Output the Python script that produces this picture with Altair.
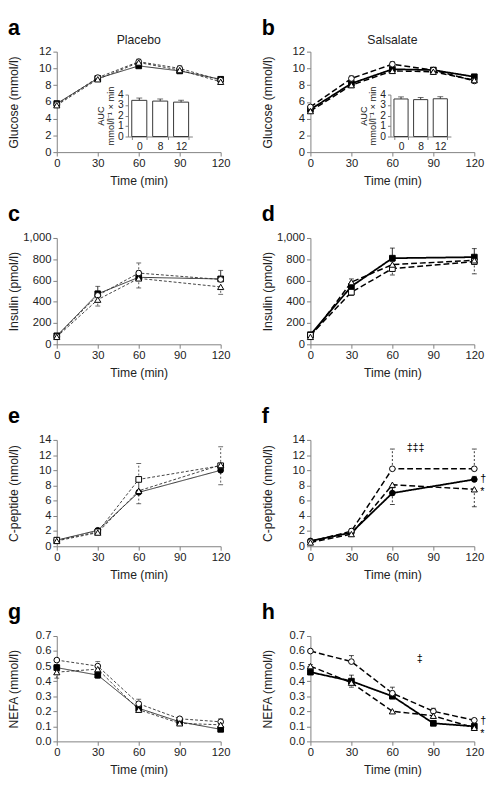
import altair as alt
import pandas as pd

FONT = "Liberation Sans"
AX = "#808080"
TX = "#222222"

TIME5 = [0, 30, 60, 90, 120]
TIME4 = [0, 30, 60, 120]
WEEKS = ["0", "8", "12"]

GLU_TICKS = [0, 2, 4, 6, 8, 10, 12]
INS_TICKS = [0, 200, 400, 600, 800, 1000]
CPEP_TICKS = [0, 2, 4, 6, 8, 10, 12, 14]
NEFA_TICKS = [0.0, 0.1, 0.2, 0.3, 0.4, 0.5, 0.6, 0.7]
AUC_TICKS = [0, 1, 2, 3, 4]

# a  Glucose, placebo
GLU_PLA_W0 = [5.8, 8.8, 10.3, 9.7, 8.7]
GLU_PLA_W8 = [5.7, 8.9, 10.8, 10.0, 8.6]
GLU_PLA_W12 = [5.6, 8.7, 10.7, 9.8, 8.4]
GLU_PLA_E0 = [0.1, 0.2, 0.3, 0.2, 0.2]
GLU_PLA_E8 = [0.1, 0.2, 0.3, 0.3, 0.2]
GLU_PLA_E12 = [-0.1, -0.2, -0.3, -0.2, -0.2]
AUC_PLA = [3.45, 3.38, 3.28]
AUC_PLA_ERR = [0.22, 0.2, 0.18]

# b  Glucose, salsalate
GLU_SAL_W0 = [5.1, 8.2, 9.9, 9.8, 9.0]
GLU_SAL_W8 = [5.4, 8.8, 10.5, 9.8, 8.5]
GLU_SAL_W12 = [4.9, 8.0, 9.7, 9.6, 8.6]
GLU_SAL_E0 = [0.2, 0.3, 0.3, 0.2, 0.2]
GLU_SAL_E8 = [0.2, 0.3, 0.3, 0.3, 0.2]
GLU_SAL_E12 = [-0.2, -0.3, -0.3, -0.3, -0.2]
AUC_SAL = [3.58, 3.52, 3.6]
AUC_SAL_ERR = [0.2, 0.2, 0.2]

# c  Insulin, placebo
INS_PLA_W0 = [80, 475, 630, 615]
INS_PLA_W8 = [75, 460, 670, 610]
INS_PLA_W12 = [70, 420, 620, 540]
INS_PLA_E0 = [10, 70, 60, 80]
INS_PLA_E8 = [10, 40, 95, 20]
INS_PLA_E12 = [-10, -60, -90, -70]

# d  Insulin, salsalate
INS_SAL_W0 = [90, 545, 810, 820]
INS_SAL_W8 = [85, 490, 712, 778]
INS_SAL_W12 = [70, 585, 750, 790]
INS_SAL_E0 = [10, 40, 95, 80]
INS_SAL_E8 = [-10, -30, -60, -115]
INS_SAL_E12 = [10, 30, 30, 30]

# e  C-peptide, placebo
CPEP_PLA_W0 = [0.8, 2.1, 7.1, 10.0]
CPEP_PLA_W8 = [0.8, 1.9, 8.8, 10.6]
CPEP_PLA_W12 = [0.7, 1.8, 7.3, 10.7]
CPEP_PLA_E0 = [0.1, 0.2, 1.5, 0.3]
CPEP_PLA_E8 = [0.1, 0.2, 2.1, 2.5]
CPEP_PLA_E12 = [-0.1, -0.2, -1.7, -2.6]

# f  C-peptide, salsalate
CPEP_SAL_W0 = [0.7, 1.8, 7.0, 8.8]
CPEP_SAL_W8 = [0.6, 2.0, 10.2, 10.2]
CPEP_SAL_W12 = [0.5, 1.6, 8.1, 7.5]
CPEP_SAL_E0 = [0.1, 0.2, 0.7, 0.4]
CPEP_SAL_E8 = [0.1, 0.3, 2.6, 2.6]
CPEP_SAL_E12 = [-0.1, -0.3, -2.6, -2.3]
F_NOTE_TXT = ["‡‡‡", "†", "*"]
F_NOTE_X = [77, 120, 120]
F_NOTE_Y = [12.9, 8.9, 7.2]

# g  NEFA, placebo
NEFA_PLA_W0 = [0.49, 0.44, 0.22, 0.13, 0.08]
NEFA_PLA_W8 = [0.54, 0.50, 0.25, 0.15, 0.13]
NEFA_PLA_W12 = [0.46, 0.48, 0.21, 0.12, 0.11]
NEFA_PLA_E0 = [0.02, -0.02, 0.01, 0.01, 0.01]
NEFA_PLA_E8 = [0.01, 0.03, 0.03, 0.01, 0.02]
NEFA_PLA_E12 = [-0.04, -0.02, -0.01, -0.01, -0.01]

# h  NEFA, salsalate
NEFA_SAL_W0 = [0.46, 0.40, 0.30, 0.12, 0.10]
NEFA_SAL_W8 = [0.60, 0.53, 0.32, 0.20, 0.14]
NEFA_SAL_W12 = [0.50, 0.39, 0.20, 0.17, 0.09]
NEFA_SAL_E0 = [0.01, 0.04, 0.01, 0.01, 0.01]
NEFA_SAL_E8 = [0.01, 0.04, 0.04, 0.02, 0.01]
NEFA_SAL_E12 = [0.01, -0.03, -0.01, -0.01, -0.01]
H_NOTE_TXT = ["‡", "†", "*"]
H_NOTE_X = [80, 120, 120]
H_NOTE_Y = [0.55, 0.135, 0.05]

W = 168
YEXT = 24
YPAD = 13


def frame(times, series, errs):
    rows = []
    for wk, vals, es in zip(WEEKS, series, errs):
        for t, v, e in zip(times, vals, es):
            rows.append({"time": t, "value": v, "err": e, "top": v + e, "week": wk})
    return pd.DataFrame(rows)


def x_axis():
    return alt.Axis(values=TIME5, title="Time (min)", grid=False, tickSize=4,
                    labelPadding=2, labelFontSize=11.5, titleFontSize=12.5,
                    titleFontWeight="normal", minExtent=18, maxExtent=18,
                    titlePadding=5, domainColor=AX, tickColor=AX, labelColor=TX,
                    titleColor=TX, labelFlush=False, labelOverlap=False,
                    labelFont=FONT, titleFont=FONT)


def y_axis(title, values, fmt):
    return alt.Axis(values=values, title=title, format=fmt, grid=False, tickSize=4,
                    labelPadding=2, labelFontSize=11.5, titleFontSize=12.5,
                    titleFontWeight="normal", minExtent=YEXT, maxExtent=YEXT,
                    titlePadding=YPAD, domainColor=AX, tickColor=AX, labelColor=TX,
                    titleColor=TX, labelOverlap=False, labelFont=FONT, titleFont=FONT)


def inset_layer(vals, errs, xrange, h):
    df = pd.DataFrame({"week": WEEKS, "auc": vals, "top": [v + e for v, e in zip(vals, errs)]})
    ix = alt.X("week:N", sort=WEEKS,
               scale=alt.Scale(domain=WEEKS, range=xrange, paddingInner=0.28, paddingOuter=0.18),
               axis=alt.Axis(orient="bottom", offset=-(h - 87), title=None, labelAngle=0,
                             labelFontSize=10.5, tickSize=3, labelPadding=2, domainColor=AX,
                             tickColor=AX, labelColor=TX, grid=False, tickBand="extent",
                             labelFont=FONT))
    ysc = alt.Scale(domain=[0, 4], range=[87, 44], nice=False)
    yax = alt.Axis(orient="left", offset=-xrange[0], values=AUC_TICKS,
                   title=["AUC", "mmol/l⁻¹ × min"], titleFontSize=9.5, titleFontWeight="normal",
                   labelFontSize=10.5, tickSize=3, labelPadding=2, minExtent=10, maxExtent=10,
                   titlePadding=3, grid=False, domainColor=AX, tickColor=AX, labelColor=TX,
                   titleColor=TX, labelFont=FONT, titleFont=FONT, titleLineHeight=10)
    base = alt.Chart(df)
    bars = base.mark_bar(fill="white", stroke="#333333", strokeWidth=1).encode(
        x=ix, y=alt.Y("auc:Q", scale=ysc, axis=yax))
    err = base.mark_rule(color="#333333", strokeWidth=1).encode(
        x=ix, y=alt.Y("auc:Q", scale=ysc, axis=yax), y2="top:Q")
    cap = base.mark_tick(orient="horizontal", size=6, thickness=1, color="#333333").encode(
        x=ix, y=alt.Y("top:Q", scale=ysc, axis=yax))
    return alt.layer(bars, err, cap)


def panel(df, ydom, yticks, yfmt, ytitle, letter, salsa, h, shapes,
          heading=None, inset=None, notes=None):
    col = "#000000" if salsa else "#2a2a2a"
    lw = [1.8, 1.5, 1.5] if salsa else [1.0, 0.9, 0.9]
    dashes = [[1, 0], [6, 3], [6, 3]] if salsa else [[1, 0], [3, 2], [3, 2]]
    x = alt.X("time:Q", scale=alt.Scale(domain=[0, 120], nice=False, zero=False), axis=x_axis())
    ysc = alt.Scale(domain=ydom, nice=False)
    yax = y_axis(ytitle, yticks, yfmt)
    base = alt.Chart(df)
    layers = []
    for i, wk in enumerate(WEEKS):
        sub = base.transform_filter(alt.datum.week == wk)
        layers.append(sub.mark_line(color=col, strokeWidth=lw[i], strokeDash=dashes[i]).encode(
            x=x, y=alt.Y("value:Q", scale=ysc, axis=yax)))
    for i, wk in enumerate(WEEKS):
        sub = base.transform_filter(alt.datum.week == wk)
        layers.append(sub.mark_rule(color=col, strokeWidth=1 if i == 0 else 0.8,
                                    strokeDash=[1, 0] if i == 0 else [2, 2]).encode(
            x=x, y=alt.Y("value:Q", scale=ysc, axis=yax), y2="top:Q"))
        layers.append(sub.mark_tick(orient="horizontal", size=5, thickness=1, color=col).encode(
            x=x, y=alt.Y("top:Q", scale=ysc, axis=yax)))
    for i, wk in enumerate(WEEKS):
        sub = base.transform_filter(alt.datum.week == wk)
        layers.append(sub.mark_point(shape=shapes[i], filled=True,
                                     fill="black" if i == 0 else "white", stroke="black",
                                     strokeWidth=1, size=34 if i < 2 else 40, opacity=1).encode(
            x=x, y=alt.Y("value:Q", scale=ysc, axis=yax)))
    if notes is not None:
        ndf = pd.DataFrame({"time": notes[1], "value": notes[2], "txt": notes[0]})
        nb = alt.Chart(ndf)
        layers.append(nb.transform_filter(alt.datum.time < 120).mark_text(
            fontSize=11, font=FONT, color="black", baseline="middle").encode(
            x=x, y=alt.Y("value:Q", scale=ysc, axis=yax), text="txt:N"))
        layers.append(nb.transform_filter(alt.datum.time >= 120).mark_text(
            fontSize=11, font=FONT, color="black", baseline="middle", align="left", dx=6).encode(
            x=x, y=alt.Y("value:Q", scale=ysc, axis=yax), text="txt:N"))
    lab = pd.DataFrame({"t": [letter]})
    layers.append(alt.Chart(lab).mark_text(fontSize=22, fontWeight="bold", font=FONT,
                                           color="black", align="left", baseline="alphabetic").encode(
        text="t:N", x=alt.value(-(YEXT + YPAD + 13)), y=alt.value(-17)))
    if heading is not None:
        hd = pd.DataFrame({"t": [heading]})
        layers.append(alt.Chart(hd).mark_text(fontSize=12.5, font=FONT, color=TX,
                                              align="center", baseline="middle").encode(
            text="t:N", x=alt.value(W / 2), y=alt.value(-12)))
    main = alt.layer(*layers)
    if inset is not None:
        main = alt.layer(main, inset).resolve_scale(x="independent", y="independent")
    return main.properties(width=W, height=h)


SQ, CI, TR = "square", "circle", "triangle-up"
H1, H2, H3, H4 = 103, 109, 109, 108

pa = panel(frame(TIME5, [GLU_PLA_W0, GLU_PLA_W8, GLU_PLA_W12], [GLU_PLA_E0, GLU_PLA_E8, GLU_PLA_E12]),
           [0, 12], GLU_TICKS, "d", "Glucose (mmol/l)", "a", False, H1, [SQ, CI, TR],
           heading="Placebo", inset=inset_layer(AUC_PLA, AUC_PLA_ERR, [73, 139], H1))
pb = panel(frame(TIME5, [GLU_SAL_W0, GLU_SAL_W8, GLU_SAL_W12], [GLU_SAL_E0, GLU_SAL_E8, GLU_SAL_E12]),
           [0, 12], GLU_TICKS, "d", "Glucose (mmol/l)", "b", True, H1, [SQ, CI, TR],
           heading="Salsalate", inset=inset_layer(AUC_SAL, AUC_SAL_ERR, [82, 144], H1))
pc = panel(frame(TIME4, [INS_PLA_W0, INS_PLA_W8, INS_PLA_W12], [INS_PLA_E0, INS_PLA_E8, INS_PLA_E12]),
           [0, 1000], INS_TICKS, ",d", "Insulin (pmol/l)", "c", False, H2, [SQ, CI, TR])
pd_ = panel(frame(TIME4, [INS_SAL_W0, INS_SAL_W8, INS_SAL_W12], [INS_SAL_E0, INS_SAL_E8, INS_SAL_E12]),
            [0, 1000], INS_TICKS, ",d", "Insulin (pmol/l)", "d", True, H2, [SQ, SQ, TR])
pe = panel(frame(TIME4, [CPEP_PLA_W0, CPEP_PLA_W8, CPEP_PLA_W12], [CPEP_PLA_E0, CPEP_PLA_E8, CPEP_PLA_E12]),
           [0, 14], CPEP_TICKS, "d", "C-peptide (nmol/l)", "e", False, H3, [CI, SQ, TR])
pf = panel(frame(TIME4, [CPEP_SAL_W0, CPEP_SAL_W8, CPEP_SAL_W12], [CPEP_SAL_E0, CPEP_SAL_E8, CPEP_SAL_E12]),
           [0, 14], CPEP_TICKS, "d", "C-peptide (nmol/l)", "f", True, H3, [CI, CI, TR],
           notes=(F_NOTE_TXT, F_NOTE_X, F_NOTE_Y))
pg = panel(frame(TIME5, [NEFA_PLA_W0, NEFA_PLA_W8, NEFA_PLA_W12], [NEFA_PLA_E0, NEFA_PLA_E8, NEFA_PLA_E12]),
           [0, 0.7], NEFA_TICKS, ".1f", "NEFA (mmol/l)", "g", False, H4, [SQ, CI, TR])
ph = panel(frame(TIME5, [NEFA_SAL_W0, NEFA_SAL_W8, NEFA_SAL_W12], [NEFA_SAL_E0, NEFA_SAL_E8, NEFA_SAL_E12]),
           [0, 0.7], NEFA_TICKS, ".1f", "NEFA (mmol/l)", "h", True, H4, [SQ, CI, TR],
           notes=(H_NOTE_TXT, H_NOTE_X, H_NOTE_Y))

HS = 32
row1 = alt.hconcat(pa, pb, spacing=HS)
row2 = alt.hconcat(pc, pd_, spacing=HS)
row3 = alt.hconcat(pe, pf, spacing=HS)
row4 = alt.hconcat(pg, ph, spacing=HS)

chart = alt.vconcat(
    alt.vconcat(row1, row2, spacing=17),
    alt.vconcat(row3, row4, spacing=21),
    spacing=27,
).properties(padding=0).configure(font=FONT).configure_view(stroke=None)

chart.save("out.html", embed_options={"renderer": "svg", "actions": False})
